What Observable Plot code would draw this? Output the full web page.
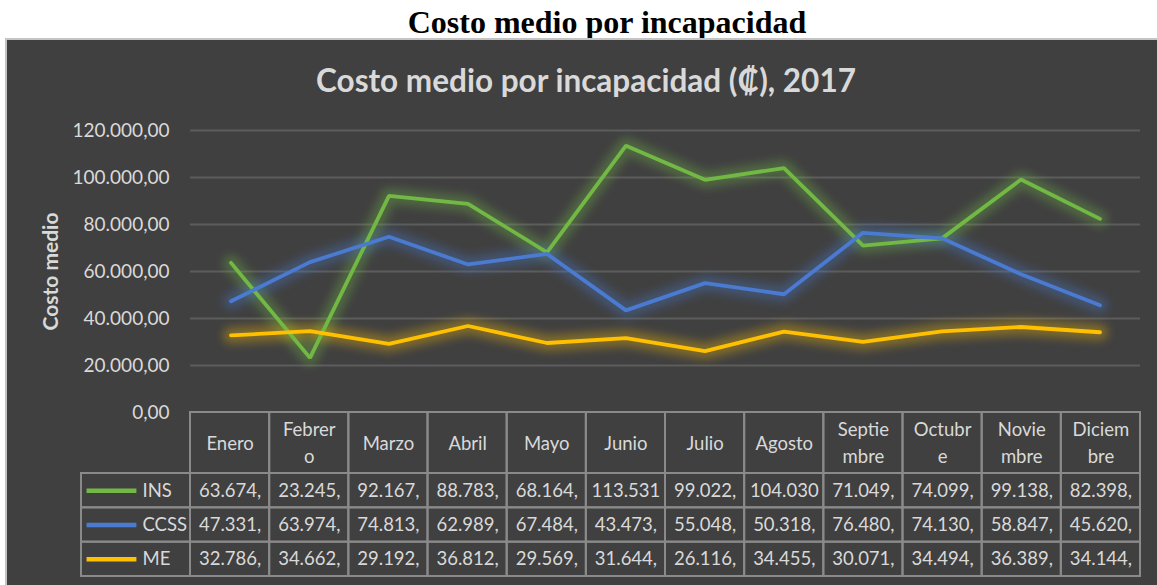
<!DOCTYPE html>
<html>
<head>
<meta charset="utf-8">
<script src="https://cdn.jsdelivr.net/npm/d3@7"></script>
<script src="https://cdn.jsdelivr.net/npm/@observablehq/plot@0.6"></script>
<style>
  html, body { margin: 0; padding: 0; background: #ffffff; }
  body { width: 1157px; height: 585px; position: relative; overflow: hidden; }
  #outer-title { position: absolute; left: 0; top: 3px; width: 1214px; text-align: center;
    font-family: "Liberation Serif", "Times New Roman", serif; font-weight: bold; font-size: 32px; line-height: 38px; color: #000; }
  #panel { position: absolute; left: 5px; top: 38px; width: 1152px; height: 547px; background: #404040;
    border-left: 2px solid #c4c4c4; border-top: 2px solid #c4c4c4; box-sizing: border-box; }
  #chart-title { position: absolute; left: 0; top: 61px; width: 1172px; text-align: center;
    font-family: Lato, "DejaVu Sans", sans-serif; font-weight: bold; font-size: 31.5px; line-height: 38px; color: #d9d9d9; }
  #chart, #table { position: absolute; left: 0; }
  #chart { top: 40px; }
  #table { top: 412px; }
  g[aria-description="glow"] { filter: blur(5px); }
</style>
</head>
<body>
<div id="outer-title">Costo medio por incapacidad</div>
<div id="panel"></div>
<div id="chart-title">Costo medio por incapacidad (₡), 2017</div>
<div id="chart"></div>
<div id="table"></div>
<script>
// ---------- data ----------
const months = ["Enero","Febrero","Marzo","Abril","Mayo","Junio","Julio","Agosto","Septiembre","Octubre","Noviembre","Diciembre"];
const monthHeaderLabels = ["Enero","Febrer\no","Marzo","Abril","Mayo","Junio","Julio","Agosto","Septie\nmbre","Octubr\ne","Novie\nmbre","Diciem\nbre"];
const seriesNames = ["INS","CCSS","ME"];
const insValues  = [63674, 23245, 92167, 88783, 68164, 113531, 99022, 104030, 71049, 74099, 99138, 82398];
const ccssValues = [47331, 63974, 74813, 62989, 67484, 43473, 55048, 50318, 76480, 74130, 58847, 45620];
const meValues   = [32786, 34662, 29192, 36812, 29569, 31644, 26116, 34455, 30071, 34494, 36389, 34144];
const seriesColors = ["#72b845", "#4a7bd0", "#ffc000"];
const yTicks = [0, 20000, 40000, 60000, 80000, 100000, 120000];
const yLabel = "Costo medio";

// ---------- helpers ----------
const locale = d3.formatLocale({decimal: ",", thousands: ".", grouping: [3], currency: ["₡", ""]});
const fmt = locale.format(",.2f");
const valueArrays = [insValues, ccssValues, meValues];
const rows = seriesNames.flatMap((s, r) => valueArrays[r].map((v, i) => ({series: s, month: months[i], i, r, value: v})));
const colorScale = {domain: seriesNames, range: seriesColors};

const textColor = "#d9d9d9";
const font = "Lato, 'DejaVu Sans', sans-serif";

// ---------- line chart ----------
const chart = Plot.plot({
  width: 1157, height: 380,
  marginTop: 90, marginBottom: 8, marginLeft: 190, marginRight: 17,
  style: {background: "transparent", color: textColor, fontFamily: font, fontSize: "19px", overflow: "visible"},
  x: {type: "band", domain: months, paddingInner: 0, paddingOuter: 0, axis: null},
  y: {domain: [0, 120000], axis: null},
  color: colorScale,
  marks: [
    Plot.gridY(yTicks.slice(1), {stroke: "#5c5c5c", strokeOpacity: 1, strokeWidth: 2}),
    Plot.axisY(yTicks, {tickSize: 0, tickPadding: 21, tickFormat: fmt, label: null, fill: textColor, fontSize: 19}),
    Plot.text([yLabel], {frameAnchor: "left", textAnchor: "middle", rotate: -90, dx: -139, fontWeight: "bold", fontSize: 21, fill: textColor}),
    Plot.line(rows, {x: "month", y: "value", z: "series", stroke: "series", strokeWidth: 16, strokeOpacity: 0.34, ariaDescription: "glow"}),
    Plot.line(rows, {x: "month", y: "value", z: "series", stroke: "series", strokeWidth: 3.8, strokeLinejoin: "miter"})
  ]
});
document.getElementById("chart").appendChild(chart);

// ---------- data table ----------
const legendSpan = 1.377;   // legend column width, in month-column units
const headerSpan = 1.777;   // header row height, in data-row units
const headerCells = months.map((m, i) => ({x1: i, x2: i + 1, y1: 0, y2: headerSpan, label: monthHeaderLabels[i]}));
const valueCells = rows.map(d => ({x1: d.i, x2: d.i + 1, y1: headerSpan + d.r, y2: headerSpan + d.r + 1, label: fmt(d.value).slice(0, 7)}));
const legendCells = seriesNames.map((s, r) => ({x1: -legendSpan, x2: 0, y1: headerSpan + r, y2: headerSpan + r + 1, series: s}));
const mid = (a, b) => d => (d[a] + d[b]) / 2;

const table = Plot.plot({
  width: 1157, height: 173,
  marginTop: 0, marginBottom: 9, marginLeft: 81, marginRight: 17,
  style: {background: "transparent", color: textColor, fontFamily: font, fontSize: "18.5px", overflow: "visible"},
  x: {type: "linear", domain: [-legendSpan, 12], axis: null},
  y: {type: "linear", domain: [0, headerSpan + seriesNames.length], reverse: true, axis: null},
  color: colorScale,
  marks: [
    Plot.rect([...headerCells, ...valueCells, ...legendCells], {x1: "x1", x2: "x2", y1: "y1", y2: "y2", fill: "none", stroke: "#8a8a8a", strokeWidth: 2}),
    Plot.text(headerCells, {x: mid("x1", "x2"), y: mid("y1", "y2"), text: "label", lineHeight: 1.45, dy: -2, fill: textColor}),
    Plot.text(valueCells, {x: mid("x1", "x2"), y: mid("y1", "y2"), text: "label", fill: textColor}),
    Plot.ruleY(legendCells, {y: mid("y1", "y2"), x1: d => d.x1 + 0.07, x2: d => d.x1 + 0.7, stroke: "series", strokeWidth: 4.5}),
    Plot.text(legendCells, {x: d => d.x1 + 0.77, y: mid("y1", "y2"), text: "series", textAnchor: "start", fill: textColor})
  ]
});
document.getElementById("table").appendChild(table);
</script>
</body>
</html>
